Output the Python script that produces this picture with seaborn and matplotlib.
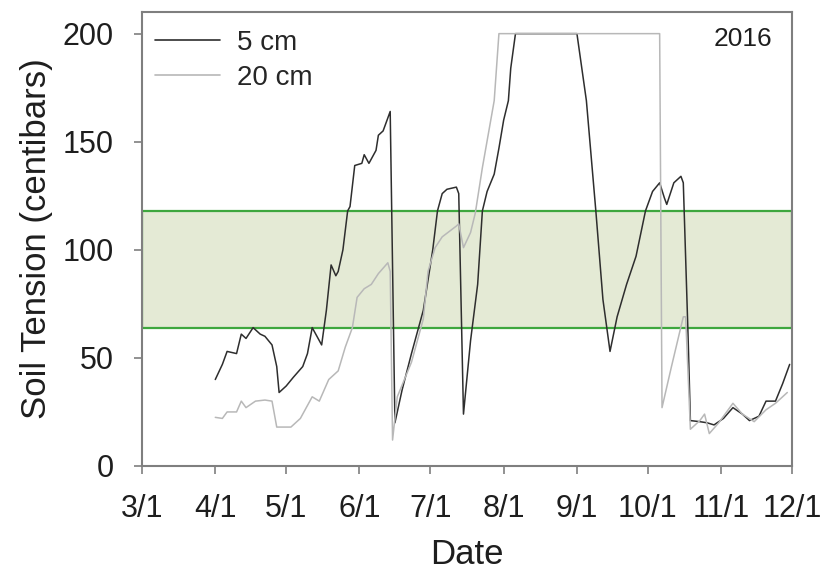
#!/usr/bin/env python3
import matplotlib

matplotlib.use("Agg")
import matplotlib.pyplot as plt
import pandas as pd
import seaborn as sns

# 5 cm sensor
DATES_5CM = [
    "04-01", "04-04", "04-06", "04-10", "04-12", "04-14", "04-17", "04-20",
    "04-22", "04-25", "04-27", "04-28", "05-01", "05-04", "05-08", "05-10",
    "05-12", "05-14", "05-16", "05-18", "05-20", "05-22", "05-23", "05-25",
    "05-27", "05-28", "05-30", "06-02", "06-03", "06-05", "06-08", "06-09",
    "06-11", "06-14", "06-16", "06-19", "06-23", "06-28", "07-02", "07-04",
    "07-06", "07-08", "07-12", "07-13", "07-15", "07-18", "07-21", "07-23",
    "07-25", "07-28", "07-30", "08-01", "08-03", "08-04", "08-06", "09-01",
    "09-05", "09-09", "09-12", "09-15", "09-18", "09-22", "09-26", "09-30",
    "10-03", "10-06", "10-08", "10-09", "10-12", "10-15", "10-16", "10-18",
    "10-19", "10-23", "10-26", "10-29", "11-02", "11-06", "11-10", "11-13",
    "11-17", "11-20", "11-24", "11-27", "11-30",
]
TENSION_5CM = [
    40, 47, 53, 52, 61, 59, 64, 61,
    60, 56, 46, 34, 37, 41, 46, 52,
    64, 60, 56, 72, 93, 88, 90, 100,
    118, 120, 139, 140, 144, 140, 146, 153,
    155, 164, 20, 35, 52, 72, 100, 118,
    126, 128, 129, 126, 24, 58, 84, 118,
    127, 135, 147, 160, 169, 184, 200, 200,
    169, 118, 77, 53, 69, 84, 97, 118,
    127, 131, 124, 121, 131, 134, 131, 61,
    21, 20.5, 20, 19, 22, 27, 24, 21,
    23, 30, 30, 38, 47,
]

# 20 cm sensor
DATES_20CM = [
    "04-01", "04-04", "04-06", "04-10", "04-12", "04-14", "04-18", "04-22",
    "04-25", "04-27", "05-03", "05-07", "05-12", "05-15", "05-19", "05-23",
    "05-26", "05-29", "05-31", "06-03", "06-06", "06-09", "06-13", "06-14",
    "06-15", "06-17", "06-23", "06-28", "06-30", "07-03", "07-06", "07-12",
    "07-13", "07-15", "07-18", "07-20", "07-23", "07-28", "07-30", "10-06",
    "10-07", "10-11", "10-16", "10-17", "10-19", "10-23", "10-25", "10-27",
    "10-31", "11-06", "11-10", "11-15", "11-20", "11-24", "11-29",
]
TENSION_20CM = [
    22.5, 22, 25, 25, 30, 27, 30, 30.5,
    30, 18, 18, 22, 32, 30, 40, 44,
    55, 64, 78, 82, 84, 89, 94, 90,
    12, 32, 48, 68, 90, 101, 106, 111,
    112, 101, 108, 117, 138, 169, 200, 200,
    27, 46, 69, 69, 17, 21, 24, 15,
    20, 29, 24, 20.5, 26, 29, 34,
]

TARGET_RANGE = (64, 118)
TICK_DATES = ["03-01", "04-01", "05-01", "06-01", "07-01", "08-01",
              "09-01", "10-01", "11-01", "12-01"]
TICK_LABELS = ["3/1", "4/1", "5/1", "6/1", "7/1", "8/1", "9/1", "10/1", "11/1", "12/1"]
Y_TICKS = [0, 50, 100, 150, 200]

PALETTE = {"5 cm": "#2e2e2e", "20 cm": "#b8b8b8"}
FRAME = "#7f7f7f"
TEXT = "#1e1e1e"


def to_dates(days):
    return pd.to_datetime(["2016-" + d for d in days])


def main() -> None:
    sns.set_theme(style="ticks")
    plt.rcParams["font.family"] = ["Liberation Sans", "DejaVu Sans"]

    df = pd.concat(
        [
            pd.DataFrame({"date": to_dates(DATES_5CM), "tension": TENSION_5CM, "depth": "5 cm"}),
            pd.DataFrame({"date": to_dates(DATES_20CM), "tension": TENSION_20CM, "depth": "20 cm"}),
        ],
        ignore_index=True,
    )

    fig = plt.figure(figsize=(8.29, 5.78), dpi=100)
    ax = fig.add_axes([0.1713, 0.1938, 0.7841, 0.7854])

    ax.axhspan(*TARGET_RANGE, facecolor="#e4ead5", edgecolor="#3ea73e",
               linewidth=1.6, zorder=1)
    sns.lineplot(data=df, x="date", y="tension", hue="depth", palette=PALETTE,
                 hue_order=["5 cm", "20 cm"], linewidth=1.1, ax=ax, zorder=3,
                 legend=False)

    ticks = to_dates(TICK_DATES)
    ax.set_xlim(ticks[0], ticks[-1])
    ax.set_ylim(0, 210)
    ax.set_xticks(ticks)
    ax.set_xticklabels(TICK_LABELS)
    ax.set_yticks(Y_TICKS)
    ax.tick_params(axis="both", direction="out", length=6, width=1.2,
                   color=FRAME, labelsize=22, labelcolor=TEXT, pad=14.5)
    for spine in ax.spines.values():
        spine.set_visible(True)
        spine.set_color(FRAME)
        spine.set_linewidth(1.5)

    ax.set_xlabel("Date", fontsize=25, color=TEXT, labelpad=10)
    ax.set_ylabel("Soil Tension (centibars)", fontsize=25, color=TEXT, labelpad=7)

    handles = [plt.Line2D([], [], color=PALETTE[k], linewidth=1.2) for k in PALETTE]
    ax.legend(handles, list(PALETTE), loc="upper left", bbox_to_anchor=(0, 0.989),
              frameon=False, fontsize=20, handlelength=2.35, handletextpad=0.6,
              borderaxespad=0.1, borderpad=0.37, labelspacing=0.32)
    ax.text(0.969, 0.967, "2016", transform=ax.transAxes, ha="right", va="top",
            fontsize=19, color=TEXT)

    fig.savefig("out.png", dpi=100)
    plt.close(fig)


if __name__ == "__main__":
    main()
